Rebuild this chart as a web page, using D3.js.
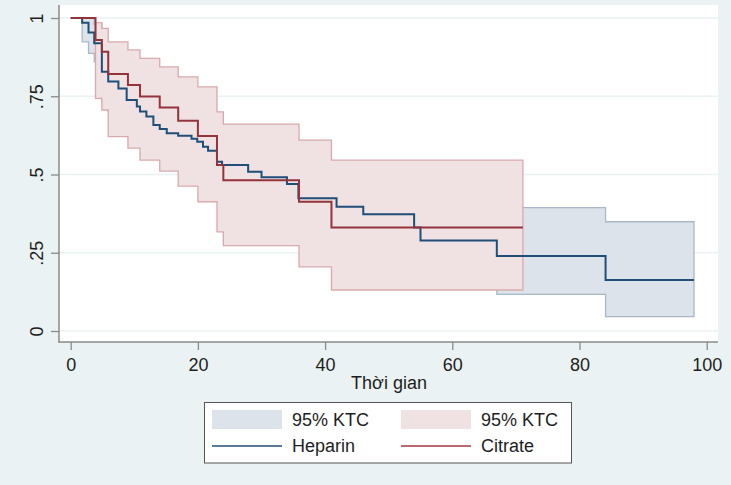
<!DOCTYPE html>
<html><head><meta charset="utf-8">
<script src="https://cdn.jsdelivr.net/npm/d3@7"></script>
<style>
html,body{margin:0;padding:0;background:#eaf2f3;}
svg{display:block;font-family:"Liberation Sans",Arial,sans-serif;}
</style></head><body>
<svg id="chart" width="731" height="485"></svg>
<script>
// ---- data ----
const xTicks = [0, 20, 40, 60, 80, 100];
const yTicks = [0, 0.25, 0.5, 0.75, 1];
const yTickLabels = ["0", ".25", ".5", ".75", "1"];
const xTitle = "Thời gian";

const heparinTime = [0,1.8,2.8,3.7,4.9,5.9,7.5,8.8,10.4,10.9,11.9,13.0,14.0,15.1,16.9,19.0,19.9,20.8,21.6,23.0,23.8,27.9,30.0,34.0,35.8,41.8,46.0,54.0,55.0,67.0,84.1,98.0];
const heparinSurv = [1,0.985,0.954,0.919,0.828,0.797,0.775,0.738,0.717,0.701,0.685,0.658,0.645,0.632,0.624,0.614,0.605,0.589,0.576,0.541,0.530,0.509,0.491,0.470,0.424,0.397,0.373,0.331,0.289,0.240,0.163,0.163];
const heparinCITime = [1.8,2.8,3.7,4.9,5.9,8.8,11.9,15.1,19.9,23.0,27.9,34.0,35.8,41.8,46.0,54.0,55.0,67.0,84.1,98.0];
const heparinLower = [0.924,0.887,0.86,0.73,0.70,0.63,0.58,0.52,0.49,0.42,0.39,0.35,0.30,0.27,0.25,0.21,0.17,0.117,0.046,0.046];
const heparinUpper = [1,1,0.98,0.90,0.88,0.82,0.77,0.73,0.70,0.65,0.62,0.58,0.54,0.52,0.49,0.45,0.41,0.394,0.349,0.349];

const citrateTime = [0,3.9,4.9,5.9,9.0,10.9,14.0,16.9,20.0,23.0,24.0,35.9,41.0,71.1];
const citrateSurv = [1,0.930,0.892,0.821,0.786,0.749,0.714,0.672,0.623,0.530,0.482,0.413,0.331,0.331];
const citrateCITime = [3.9,4.9,5.9,9.0,10.9,14.0,16.9,20.0,23.0,24.0,35.9,41.0,71.1];
const citrateLower = [0.743,0.706,0.621,0.584,0.546,0.511,0.463,0.413,0.317,0.273,0.205,0.131,0.131];
const citrateUpper = [0.985,0.967,0.924,0.898,0.871,0.844,0.812,0.780,0.700,0.661,0.610,0.546,0.546];

const legendLabels = ["95% KTC", "95% KTC", "Heparin", "Citrate"];

// ---- drawing ----
const W = 731, H = 485;
const FONT = "'Liberation Sans', Arial, sans-serif";
const FS = 18;
const svg = d3.select("#chart");
svg.append("rect").attr("width", W).attr("height", H).attr("fill", "#eaf2f3");
svg.append("rect").attr("x", 59).attr("y", 5).attr("width", 659).attr("height", 337).attr("fill", "#ffffff");

const x = d3.scaleLinear().domain([0, 100]).range([70.7, 706.7]);
const y = d3.scaleLinear().domain([0, 1]).range([331, 18]);

// grid
svg.append("g").selectAll("line").data(yTicks).join("line")
  .attr("x1", 59).attr("x2", 718)
  .attr("y1", d => y(d)).attr("y2", d => y(d))
  .attr("stroke", "#eaf2f3").attr("stroke-width", 1.5);

const zip3 = (t, lo, hi) => t.map((v, i) => ({t: v, lo: lo[i], hi: hi[i]}));
const zip2 = (t, s) => t.map((v, i) => ({t: v, s: s[i]}));

const area = d3.area().x(d => x(d.t)).y0(d => y(d.lo)).y1(d => y(d.hi)).curve(d3.curveStepAfter);
const line = d3.line().x(d => x(d.t)).y(d => y(d.s)).curve(d3.curveStepAfter);

const blue = "#1f4e79", red = "#93343c";
const blueFill = "#dde3ea", redFill = "#f0e1e2";
const blueEdge = "#a8b8c9", redEdge = "#d9aaad";

svg.append("path").datum(zip3(heparinCITime, heparinLower, heparinUpper))
  .attr("d", area).attr("fill", blueFill).attr("stroke", blueEdge).attr("stroke-width", 1.3);
svg.append("path").datum(zip3(citrateCITime, citrateLower, citrateUpper))
  .attr("d", area).attr("fill", redFill).attr("stroke", redEdge).attr("stroke-width", 1.3);
svg.append("path").datum(zip2(heparinTime, heparinSurv))
  .attr("d", line).attr("fill", "none").attr("stroke", blue).attr("stroke-width", 2);
svg.append("path").datum(zip2(citrateTime, citrateSurv))
  .attr("d", line).attr("fill", "none").attr("stroke", red).attr("stroke-width", 2);

// axes
const axisColor = "#8a8a8a";
const xAxis = svg.append("g").attr("transform", "translate(0,342)")
  .call(d3.axisBottom(x).tickValues(xTicks).tickSize(8).tickSizeOuter(0).tickFormat(d3.format("d")));
xAxis.select(".domain").remove();
xAxis.selectAll(".tick line").attr("stroke", axisColor).attr("stroke-width", 1.3);
xAxis.selectAll(".tick text").attr("y", 29).attr("dy", "0")
  .attr("font-size", FS).attr("font-family", FONT).attr("fill", "#1e1e1e");

const yAxis = svg.append("g").attr("transform", "translate(59,0)")
  .call(d3.axisLeft(y).tickValues(yTicks).tickSize(8).tickSizeOuter(0).tickFormat((d, i) => yTickLabels[i]));
yAxis.select(".domain").remove();
yAxis.selectAll(".tick line").attr("stroke", axisColor).attr("stroke-width", 1.3);
yAxis.selectAll(".tick text").attr("x", null).attr("dy", "0")
  .attr("transform", "translate(-16,0) rotate(-90)")
  .attr("text-anchor", "middle")
  .attr("font-size", FS).attr("font-family", FONT).attr("fill", "#1e1e1e");

svg.append("line").attr("x1", 59).attr("x2", 59).attr("y1", 5).attr("y2", 342.5)
  .attr("stroke", axisColor).attr("stroke-width", 1.5);
svg.append("line").attr("x1", 58.5).attr("x2", 718).attr("y1", 342).attr("y2", 342)
  .attr("stroke", axisColor).attr("stroke-width", 1.5);

svg.append("text").attr("x", 389).attr("y", 389).attr("text-anchor", "middle")
  .attr("font-size", FS).attr("font-family", FONT).attr("fill", "#1e1e1e").text(xTitle);

// legend
const lg = svg.append("g");
lg.append("rect").attr("x", 204.5).attr("y", 402.5).attr("width", 367).attr("height", 60.5)
  .attr("fill", "#ffffff").attr("stroke", "#555555").attr("stroke-width", 1);
const cols = [212, 401];
const fills = [blueFill, redFill];
const strokes = ["#5a7a9a", "#b86a70"];
cols.forEach((cx, i) => {
  lg.append("rect").attr("x", cx).attr("y", 410).attr("width", 70).attr("height", 19).attr("fill", fills[i]);
  lg.append("line").attr("x1", cx).attr("x2", cx + 70).attr("y1", 446).attr("y2", 446)
    .attr("stroke", strokes[i]).attr("stroke-width", 2);
  lg.append("text").attr("x", cx + 80).attr("y", 426).attr("font-size", FS).attr("font-family", FONT)
    .attr("fill", "#1e1e1e").text(legendLabels[i]);
  lg.append("text").attr("x", cx + 80).attr("y", 452).attr("font-size", FS).attr("font-family", FONT)
    .attr("fill", "#1e1e1e").text(legendLabels[i + 2]);
});
</script>
</body></html>
